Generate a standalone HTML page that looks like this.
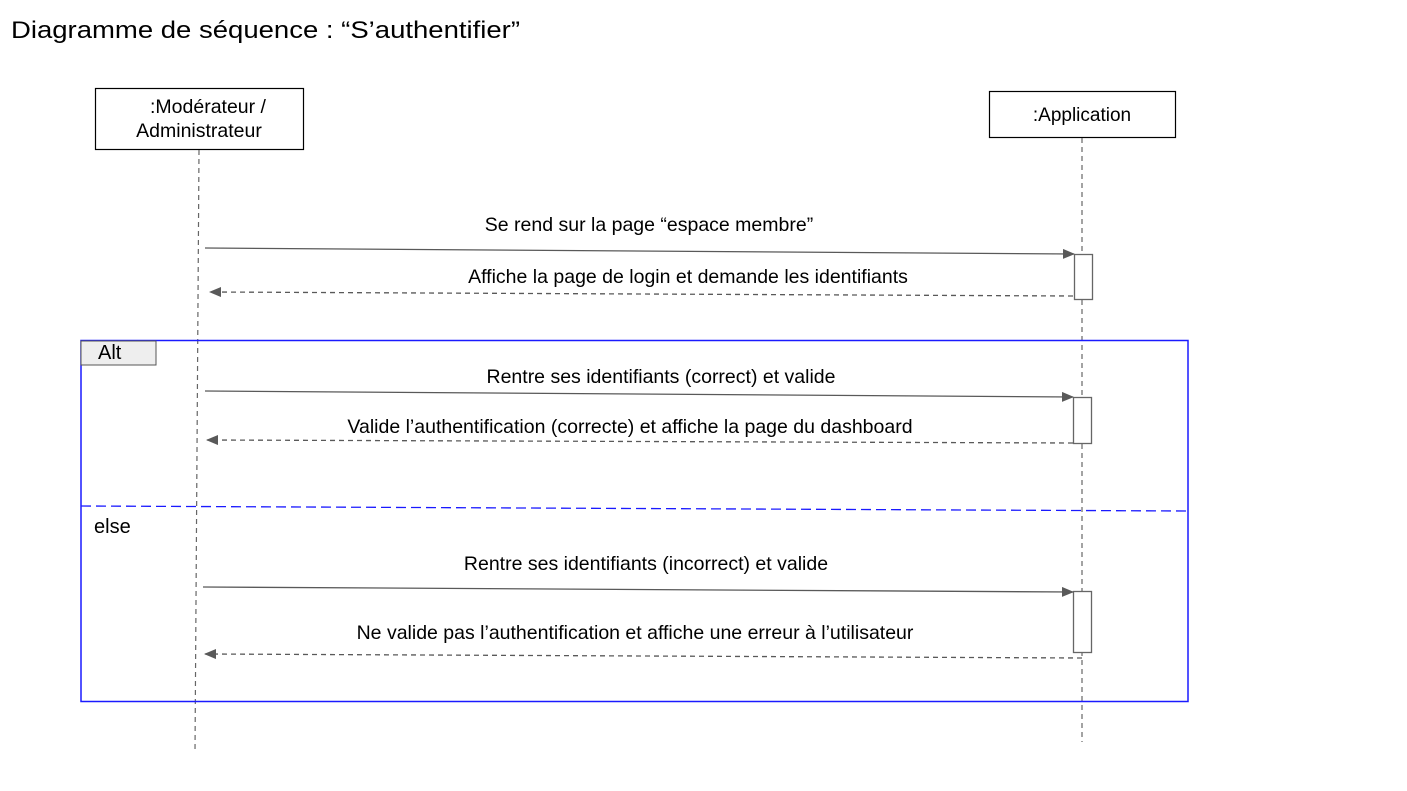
<!DOCTYPE html>
<html><head><meta charset="utf-8"><style>
html,body{margin:0;padding:0;background:#fff;}
svg{display:block;font-family:"Liberation Sans",Arial,sans-serif;}
</style></head><body>
<svg width="1407" height="791" viewBox="0 0 1407 791" xmlns="http://www.w3.org/2000/svg">
<defs>
<marker id="ah" markerWidth="12" markerHeight="10" refX="11" refY="5" orient="auto" markerUnits="userSpaceOnUse">
<path d="M0,0 L12,5 L0,10 z" fill="#595959"/>
</marker>
</defs>
<text x="11" y="38" font-size="24" fill="#000" textLength="509" lengthAdjust="spacingAndGlyphs">Diagramme de séquence : “S’authentifier”</text>

<rect x="95.5" y="88.5" width="208" height="61" fill="#fff" stroke="#000" stroke-width="1.2"/>
<text x="208" y="113" font-size="19.5" text-anchor="middle">:Modérateur /</text>
<text x="199" y="137" font-size="19.5" text-anchor="middle">Administrateur</text>
<rect x="989.5" y="91.5" width="186" height="46" fill="#fff" stroke="#000" stroke-width="1.2"/>
<text x="1082" y="121" font-size="19" text-anchor="middle">:Application</text>

<line x1="199" y1="150" x2="195" y2="752" stroke="#666" stroke-width="1.2" stroke-dasharray="5,4"/>
<line x1="1082" y1="138" x2="1082" y2="742" stroke="#666" stroke-width="1.2" stroke-dasharray="5,4"/>

<rect x="81" y="340.5" width="1107" height="361" fill="none" stroke="#1a1aff" stroke-width="1.5"/>
<rect x="81" y="341" width="75" height="24" fill="#eee" stroke="#555" stroke-width="1"/>
<text x="98" y="359" font-size="20">Alt</text>
<line x1="81" y1="506" x2="1188" y2="511" stroke="#1a1aff" stroke-width="1.3" stroke-dasharray="10,5"/>
<text x="94" y="533" font-size="20">else</text>

<rect x="1074.5" y="254.5" width="18" height="45" fill="#fff" stroke="#666" stroke-width="1.3"/>
<rect x="1073.5" y="397.5" width="18" height="46" fill="#fff" stroke="#666" stroke-width="1.3"/>
<rect x="1073.5" y="591.5" width="18" height="61" fill="#fff" stroke="#666" stroke-width="1.3"/>

<g font-size="19.5" text-anchor="middle" fill="#000">
<line x1="205" y1="248" x2="1074" y2="254" stroke="#595959" stroke-width="1.3" marker-end="url(#ah)"/>
<text x="649" y="231">Se rend sur la page “espace membre”</text>
<line x1="1073" y1="296" x2="210" y2="292" stroke="#595959" stroke-width="1.3" stroke-dasharray="5,4" marker-end="url(#ah)"/>
<text x="688" y="283">Affiche la page de login et demande les identifiants</text>

<line x1="205" y1="391" x2="1073" y2="397" stroke="#595959" stroke-width="1.3" marker-end="url(#ah)"/>
<text x="661" y="383">Rentre ses identifiants (correct) et valide</text>
<line x1="1073" y1="443" x2="207" y2="440" stroke="#595959" stroke-width="1.3" stroke-dasharray="5,4" marker-end="url(#ah)"/>
<text x="630" y="433">Valide l’authentification (correcte) et affiche la page du dashboard</text>

<line x1="203" y1="587" x2="1073" y2="592" stroke="#595959" stroke-width="1.3" marker-end="url(#ah)"/>
<text x="646" y="570">Rentre ses identifiants (incorrect) et valide</text>
<line x1="1082" y1="658" x2="205" y2="654" stroke="#595959" stroke-width="1.3" stroke-dasharray="5,4" marker-end="url(#ah)"/>
<text x="635" y="639">Ne valide pas l’authentification et affiche une erreur à l’utilisateur</text>
</g>
</svg>
</body></html>
